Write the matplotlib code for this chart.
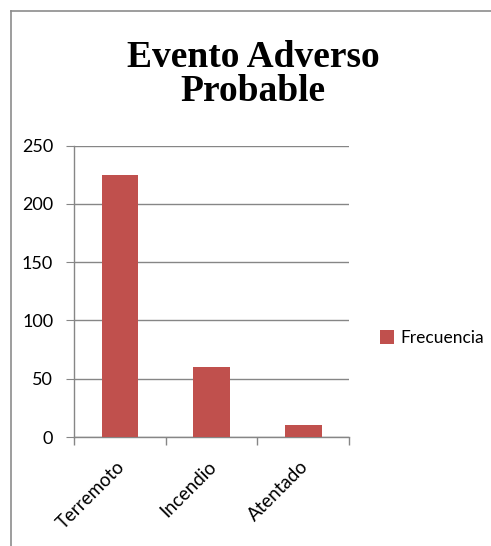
import matplotlib
matplotlib.use("Agg")
import matplotlib.pyplot as plt
import matplotlib.transforms as mtransforms
from matplotlib.lines import Line2D
from matplotlib.patches import Patch

categories = ["Terremoto", "Incendio", "Atentado"]
frecuencia = [225, 60, 10]
yticks = [0, 50, 100, 150, 200, 250]
series_name = "Frecuencia"
title = "Evento Adverso\nProbable"

W, H = 491, 546
fig = plt.figure(figsize=(W / 100, H / 100), dpi=100)
fig.patch.set_facecolor("white")

# plot area in pixel coordinates
left, right, top, bottom = 74, 349, 145.5, 437
ax = fig.add_axes([left / W, 1 - bottom / H, (right - left) / W, (bottom - top) / H])

bar_color = "#C0504D"
grid_color = "#868686"
x = range(len(categories))
ax.bar(x, frecuencia, width=0.4, color=bar_color, zorder=3, label=series_name)

ax.set_xlim(-0.5, len(categories) - 0.5)
ax.set_ylim(0, 250)
ax.set_yticks(yticks)
ax.set_yticklabels([str(v) for v in yticks], fontsize=13, family="Lato")
ax.yaxis.grid(True, color=grid_color, linewidth=1, zorder=0)
ax.tick_params(axis="y", length=6, color=grid_color, pad=9)

# category boundaries carry the x tick marks
ax.set_xticks([i - 0.5 for i in range(len(categories) + 1)], minor=False)
ax.set_xticklabels([])
ax.tick_params(axis="x", length=6, color=grid_color, width=1, direction="out")
ax.set_xticks(list(x), minor=True)
ax.set_xticklabels(categories, minor=True, rotation=45, ha="right",
                   rotation_mode="anchor", fontsize=13.5, family="Lato")
ax.tick_params(axis="x", which="minor", length=0, pad=15)
shift = mtransforms.ScaledTranslation(-4 / 100, 0, fig.dpi_scale_trans)
for lbl in ax.get_xticklabels(minor=True):
    lbl.set_transform(lbl.get_transform() + shift)

for side in ("top", "right"):
    ax.spines[side].set_visible(False)
for side in ("left", "bottom"):
    ax.spines[side].set_color(grid_color)
    ax.spines[side].set_linewidth(1)

# chart title
fig.text(253 / W, 1 - 40 / H, title, ha="center", va="top",
         family="Liberation Serif", fontweight="bold", fontsize=27,
         linespacing=0.95)

# legend
handle = Patch(facecolor=bar_color, edgecolor="none")
fig.legend([handle], [series_name], loc="center left",
           bbox_to_anchor=(364 / W, 1 - 338 / H), frameon=False,
           prop={"family": "Lato", "size": 12.5}, handlelength=0.8,
           handleheight=0.8, handletextpad=0.4)

# chart frame
fig.add_artist(Line2D([11 / W, 11 / W], [0, 1 - 10.5 / H], color="#8c8c8c",
                      linewidth=1.2, transform=fig.transFigure))
fig.add_artist(Line2D([11 / W, 1], [1 - 10.5 / H, 1 - 10.5 / H], color="#8c8c8c",
                      linewidth=1.2, transform=fig.transFigure))

fig.savefig("out.png", dpi=100, facecolor="white")
